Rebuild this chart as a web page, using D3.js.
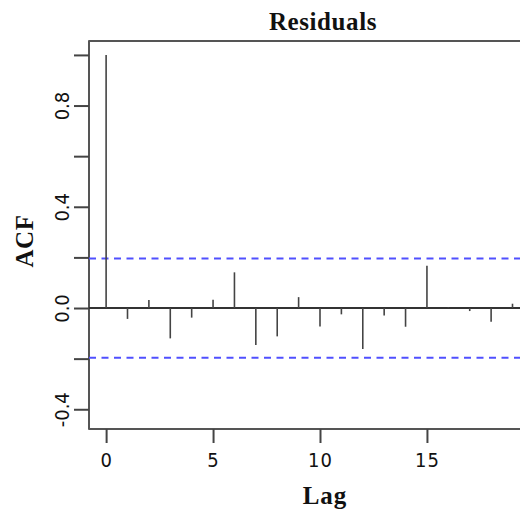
<!DOCTYPE html>
<html>
<head>
<meta charset="utf-8">
<script src="https://cdn.jsdelivr.net/npm/d3@7"></script>
<style>
  html, body { margin: 0; padding: 0; background: #fff; }
  svg { display: block; }
</style>
</head>
<body>
<svg id="chart" width="520" height="509"></svg>
<script>
// Autocorrelation of the model residuals, lags 0..19
const lags = [0, 1, 2, 3, 4, 5, 6, 7, 8, 9, 10, 11, 12, 13, 14, 15, 16, 17, 18, 19];
const acfValues = [1.0, -0.043, 0.032, -0.12, -0.038, 0.033, 0.141, -0.146, -0.112, 0.043,
                   -0.073, -0.025, -0.162, -0.03, -0.074, 0.167, 0.003, -0.012, -0.054, 0.017];
const confLimit = 0.196;                 // 2 / sqrt(n), n = 104
const xTicks = [0, 5, 10, 15];
const yTicks = [1.0, 0.8, 0.6, 0.4, 0.2, 0.0, -0.2, -0.4];
const yLabelled = ["0.8", "0.4", "0.0", "-0.4"];
const titleText = "Residuals";
const xTitle = "Lag";
const yTitle = "ACF";

const svg = d3.select("#chart");
const plotLeft = 89, plotRight = 551, plotTop = 41, plotBottom = 429;

const x = d3.scaleLinear().domain([-0.8, 20.8]).range([plotLeft, plotRight]);
const y = d3.scaleLinear().domain([-0.478, 1.055]).range([plotBottom, plotTop]);

const data = lags.map((l, i) => ({ lag: l, v: acfValues[i] }));

// Plot frame
svg.append("rect")
  .attr("x", plotLeft).attr("y", plotTop)
  .attr("width", plotRight - plotLeft).attr("height", plotBottom - plotTop)
  .attr("fill", "none").attr("stroke", "#555").attr("stroke-width", 2)
  .attr("stroke-linejoin", "round");

// Zero reference line
svg.append("line")
  .attr("x1", plotLeft).attr("x2", plotRight)
  .attr("y1", y(0)).attr("y2", y(0))
  .attr("stroke", "#333").attr("stroke-width", 2);

// Confidence bounds
[confLimit, -confLimit].forEach(c => {
  svg.append("line")
    .attr("x1", plotLeft).attr("x2", plotRight)
    .attr("y1", y(c)).attr("y2", y(c))
    .attr("stroke", "#5050ff").attr("stroke-width", 2)
    .attr("stroke-dasharray", "7,5.5");
});

// ACF spikes
svg.append("g").selectAll("line").data(data).join("line")
  .attr("x1", d => x(d.lag)).attr("x2", d => x(d.lag))
  .attr("y1", y(0)).attr("y2", d => y(d.v))
  .attr("stroke", "#444").attr("stroke-width", 1.6);

// Left axis
const yAxis = d3.axisLeft(y)
  .tickValues(yTicks)
  .tickSize(15)
  .tickFormat(d => {
    const s = d3.format(".1f")(d).replace("−", "-");
    return yLabelled.includes(s) ? s : "";
  });
const gy = svg.append("g").attr("transform", `translate(${plotLeft},0)`).call(yAxis);
gy.select(".domain").remove();
gy.selectAll(".tick line").attr("stroke", "#444").attr("stroke-width", 2);
gy.selectAll(".tick text")
  .attr("x", null).attr("dy", null)
  .attr("transform", "translate(-20,0) rotate(-90)")
  .attr("text-anchor", "middle")
  .attr("fill", "#111")
  .style("font-family", "'Liberation Sans Narrow', 'DejaVu Sans Condensed', sans-serif")
  .style("font-size", "20px");

// Bottom axis
const xAxis = d3.axisBottom(x).tickValues(xTicks).tickSize(14).tickFormat(d3.format("d"));
const gx = svg.append("g").attr("transform", `translate(0,${plotBottom})`).call(xAxis);
gx.select(".domain").remove();
gx.selectAll(".tick line").attr("stroke", "#444").attr("stroke-width", 2);
gx.selectAll(".tick text")
  .attr("y", 38).attr("dy", null)
  .attr("fill", "#111")
  .style("font-family", "'Liberation Sans Narrow', 'DejaVu Sans Condensed', sans-serif")
  .style("font-size", "20px")
  .style("letter-spacing", "1px");

// Titles
const serif = "'Liberation Serif', 'DejaVu Serif', serif";
svg.append("text")
  .attr("x", 323).attr("y", 30)
  .attr("text-anchor", "middle")
  .style("font-family", serif).style("font-weight", "bold").style("font-size", "25px")
  .style("letter-spacing", "0.6px")
  .attr("fill", "#111")
  .text(titleText);

svg.append("text")
  .attr("x", 325).attr("y", 504)
  .attr("text-anchor", "middle")
  .style("font-family", serif).style("font-weight", "bold").style("font-size", "25px")
  .style("letter-spacing", "1px")
  .attr("fill", "#111")
  .text(xTitle);

svg.append("text")
  .attr("transform", "translate(33,241) rotate(-90)")
  .attr("text-anchor", "middle")
  .style("font-family", serif).style("font-weight", "bold").style("font-size", "25px")
  .style("letter-spacing", "0.6px")
  .attr("fill", "#111")
  .text(yTitle);
</script>
</body>
</html>
